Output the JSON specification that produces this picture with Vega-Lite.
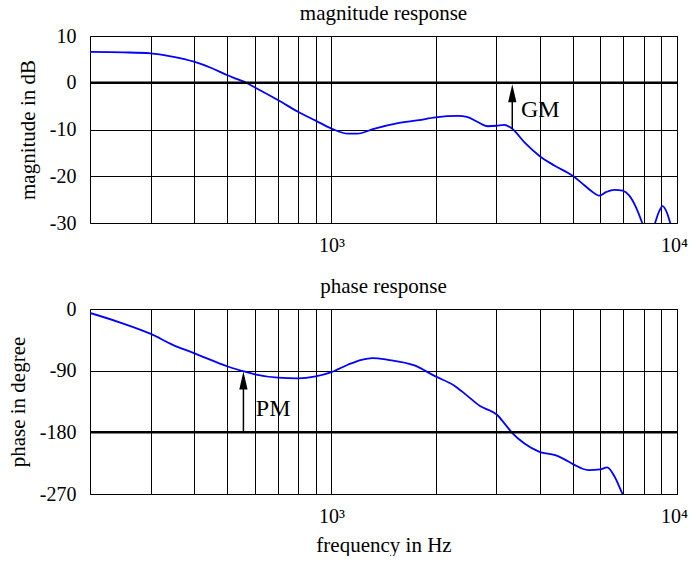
{
  "$schema": "https://vega.github.io/schema/vega-lite/v6.json",
  "padding": {"left": 6, "top": 2, "right": 0, "bottom": 0},
  "background": "white",
  "datasets": {
    "mag": [
      {"f": 200, "v": 6.6}, {"f": 250, "v": 6.5}, {"f": 300, "v": 6.3}, {"f": 346, "v": 5.6},
      {"f": 400, "v": 4.5}, {"f": 451, "v": 3.1}, {"f": 500, "v": 1.6}, {"f": 528, "v": 0.9},
      {"f": 570, "v": -0.1}, {"f": 600, "v": -1.0}, {"f": 700, "v": -3.7}, {"f": 800, "v": -6.2},
      {"f": 900, "v": -8.1}, {"f": 1000, "v": -9.8}, {"f": 1119, "v": -10.9}, {"f": 1186, "v": -10.9},
      {"f": 1334, "v": -9.8}, {"f": 1545, "v": -8.7}, {"f": 1789, "v": -8.0}, {"f": 2000, "v": -7.4},
      {"f": 2329, "v": -7.1}, {"f": 2464, "v": -7.3}, {"f": 2652, "v": -8.4}, {"f": 2831, "v": -9.3},
      {"f": 3000, "v": -9.2}, {"f": 3162, "v": -9.0}, {"f": 3336, "v": -9.85}, {"f": 3613, "v": -12.7},
      {"f": 3992, "v": -15.6}, {"f": 4414, "v": -17.7}, {"f": 4988, "v": -19.9}, {"f": 5274, "v": -21.3},
      {"f": 5637, "v": -23.1}, {"f": 5959, "v": -24.15}, {"f": 6231, "v": -23.4}, {"f": 6585, "v": -22.9},
      {"f": 6963, "v": -23.1}, {"f": 7277, "v": -24.15}, {"f": 7610, "v": -26.65}, {"f": 7922, "v": -29.9},
      {"f": 8270, "v": -34}, {"f": 8638, "v": -30}, {"f": 8855, "v": -27.7}, {"f": 9093, "v": -26.4},
      {"f": 9339, "v": -27.7}, {"f": 9565, "v": -30}, {"f": 10000, "v": -34}
    ],
    "phase": [
      {"f": 200, "v": -5.8}, {"f": 243.5, "v": -19.4}, {"f": 300, "v": -36.4}, {"f": 346, "v": -51.9},
      {"f": 400, "v": -64.5}, {"f": 451, "v": -75.1}, {"f": 500, "v": -83.9}, {"f": 558, "v": -91.1},
      {"f": 600, "v": -95.5}, {"f": 700, "v": -100.3}, {"f": 800, "v": -101.3}, {"f": 900, "v": -98.4},
      {"f": 1000, "v": -92.1}, {"f": 1119, "v": -81.0}, {"f": 1222, "v": -74.2}, {"f": 1315, "v": -71.7},
      {"f": 1457, "v": -74.2}, {"f": 1738, "v": -82.4}, {"f": 2000, "v": -98.4}, {"f": 2263, "v": -111.5},
      {"f": 2464, "v": -126}, {"f": 2697, "v": -142}, {"f": 2861, "v": -147.8}, {"f": 3000, "v": -153.7},
      {"f": 3170, "v": -167.2}, {"f": 3333, "v": -180.8}, {"f": 3617, "v": -196.3}, {"f": 4000, "v": -208.4},
      {"f": 4442, "v": -213.3}, {"f": 4710, "v": -219.1}, {"f": 5000, "v": -226.4}, {"f": 5535, "v": -235.1},
      {"f": 6000, "v": -234.1}, {"f": 6277, "v": -231.2}, {"f": 6600, "v": -244.8}, {"f": 6956, "v": -270},
      {"f": 7300, "v": -290}
    ]
  },
  "vconcat": [
    {
      "width": 587,
      "height": 187,
      "title": {"text": "magnitude response", "offset": 2},
      "layer": [
        {
          "data": {"name": "mag"},
          "mark": {"type": "line", "color": "#0000ff", "strokeWidth": 1.8, "clip": true, "interpolate": "monotone"},
          "encoding": {
            "x": {
              "field": "f", "type": "quantitative",
              "scale": {"type": "log", "domain": [200, 10000], "nice": false},
              "axis": {
                "values": [300, 400, 500, 600, 700, 800, 900, 1000, 2000, 3000, 4000, 5000, 6000, 7000, 8000, 9000, 10000],
                "labelExpr": "datum.value == 1000 ? '10³' : (datum.value == 10000 ? '10⁴' : '')",
                "labelOffset": {"condition": {"test": "datum.value == 10000", "value": -3}, "value": 0},
                "title": null
              }
            },
            "y": {
              "field": "v", "type": "quantitative",
              "scale": {"domain": [-30, 10], "nice": false, "zero": false},
              "axis": {"values": [-30, -20, -10, 0, 10], "labelExpr": "'' + datum.value", "title": "magnitude in dB"}
            }
          }
        },
        {
          "data": {"values": [{}]},
          "mark": {"type": "rule", "color": "black", "strokeWidth": 2.5},
          "encoding": {"y": {"datum": 0}}
        },
        {
          "data": {"values": [{}]},
          "mark": {"type": "rule", "color": "black", "strokeWidth": 1.5},
          "encoding": {"x": {"datum": 3336}, "y": {"datum": -9.9}, "y2": {"datum": -3}}
        },
        {
          "data": {"values": [{}]},
          "mark": {"type": "point", "shape": "M0,-1L0.46,1L-0.46,1Z", "size": 324, "filled": true, "color": "black", "opacity": 1},
          "encoding": {"x": {"datum": 3336}, "y": {"datum": -2.25}}
        },
        {
          "data": {"values": [{}]},
          "mark": {"type": "text", "text": "GM", "fontSize": 24, "align": "left", "baseline": "middle", "color": "black"},
          "encoding": {"x": {"datum": 3535}, "y": {"datum": -5.8}}
        }
      ]
    },
    {
      "width": 587,
      "height": 185,
      "title": {"text": "phase response", "offset": 2},
      "layer": [
        {
          "data": {"name": "phase"},
          "mark": {"type": "line", "color": "#0000ff", "strokeWidth": 1.8, "clip": true, "interpolate": "monotone"},
          "encoding": {
            "x": {
              "field": "f", "type": "quantitative",
              "scale": {"type": "log", "domain": [200, 10000], "nice": false},
              "axis": {
                "values": [300, 400, 500, 600, 700, 800, 900, 1000, 2000, 3000, 4000, 5000, 6000, 7000, 8000, 9000, 10000],
                "labelExpr": "datum.value == 1000 ? '10³' : (datum.value == 10000 ? '10⁴' : '')",
                "labelOffset": {"condition": {"test": "datum.value == 10000", "value": -3}, "value": 0},
                "title": "frequency in Hz"
              }
            },
            "y": {
              "field": "v", "type": "quantitative",
              "scale": {"domain": [-270, 0], "nice": false, "zero": false},
              "axis": {"values": [-270, -180, -90, 0], "labelExpr": "'' + datum.value", "title": "phase in degree"}
            }
          }
        },
        {
          "data": {"values": [{}]},
          "mark": {"type": "rule", "color": "black", "strokeWidth": 2.5},
          "encoding": {"y": {"datum": -180}}
        },
        {
          "data": {"values": [{}]},
          "mark": {"type": "rule", "color": "black", "strokeWidth": 1.5},
          "encoding": {"x": {"datum": 556}, "y": {"datum": -180}, "y2": {"datum": -110}}
        },
        {
          "data": {"values": [{}]},
          "mark": {"type": "point", "shape": "M0,-1L0.46,1L-0.46,1Z", "size": 324, "filled": true, "color": "black", "opacity": 1},
          "encoding": {"x": {"datum": 556}, "y": {"datum": -104.5}}
        },
        {
          "data": {"values": [{}]},
          "mark": {"type": "text", "text": "PM", "fontSize": 24, "align": "left", "baseline": "middle", "color": "black"},
          "encoding": {"x": {"datum": 604}, "y": {"datum": -146}}
        }
      ]
    }
  ],
  "spacing": 86,
  "bounds": "flush",
  "config": {
    "font": "Liberation Serif",
    "view": {"stroke": "black", "strokeWidth": 1},
    "title": {"font": "Liberation Serif", "fontSize": 21, "fontWeight": "normal", "color": "black"},
    "text": {"font": "Liberation Serif"},
    "axis": {
      "labelFont": "Liberation Serif", "labelFontSize": 20, "labelColor": "black",
      "titleFont": "Liberation Serif", "titleFontSize": 21, "titleFontWeight": "normal", "titleColor": "black",
      "grid": true, "gridColor": "black", "gridOpacity": 1, "gridWidth": 1,
      "ticks": false, "domain": false, "labelOverlap": false, "labelBound": false, "labelFlush": false
    },
    "axisX": {"labelPadding": 12, "titlePadding": 8},
    "axisY": {"labelPadding": 14, "titlePadding": 11}
  }
}
